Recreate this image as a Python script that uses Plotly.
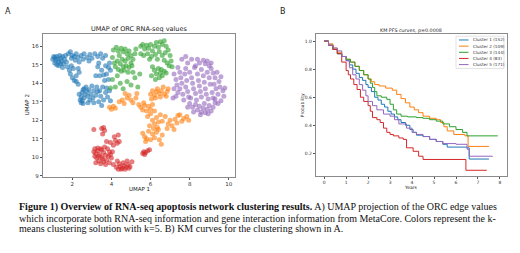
import plotly.graph_objects as go

# ---------------- data: UMAP scatter (panel A) ----------------
cluster1_pts = [(1.0,15.3),(1.1,15.4),(1.15,15.25),(1.2,15.45),(1.25,15.3),(1.3,15.15),(1.35,15.5),(1.4,15.35),(1.45,15.2),(1.5,15.45),
    (1.1,15.1),(1.2,15.0),(1.3,14.95),(1.55,15.05),(1.6,15.3),(1.65,15.5),(1.05,15.45),(1.4,15.05),(1.5,14.85),(1.7,15.15),
    (1.8,15.6),(1.9,15.7),(2.0,15.5),(2.1,15.45),(2.2,15.6),(2.3,15.4),(2.45,15.5),(2.55,15.3),(1.95,15.35),(2.15,15.25),(2.35,15.15),(2.6,15.6),
    (1.75,14.9),(1.85,14.7),(1.9,14.5),(2.0,14.3),(2.1,14.15),(2.2,14.4),(2.3,14.8),(2.35,14.6),(1.95,14.95),(2.05,14.8),(2.2,14.1),(2.3,13.95),
    (2.4,13.1),(2.45,12.95),(2.5,13.05),(2.55,12.9),(2.6,13.2),(2.45,13.25),(2.5,13.5),(2.6,13.7),(2.7,13.8),(2.75,13.55),(2.8,13.3),(2.9,13.1),
    (2.65,13.4),(2.35,13.4),(2.55,13.65),(2.85,13.65),(2.95,13.4),(3.05,13.2),(3.1,12.95),(3.2,13.35),(3.3,13.55),(3.35,13.0),(3.5,12.8),
    (3.45,13.3),(3.6,13.1),(3.7,13.5),(3.8,13.25),(3.9,13.6),(3.95,13.05),(3.1,13.6),(3.25,13.8),(3.4,13.6),(3.55,13.8),(3.75,13.75),(3.0,13.85),(2.8,12.95),
    (2.75,15.4),(2.9,15.55),(3.0,15.35),(3.15,15.6),(3.3,15.45),(3.45,15.6),(3.55,15.35),(3.7,15.5),(2.85,15.2),(3.35,15.1),
    (3.3,14.9),(3.5,14.7),(3.6,14.45),(3.75,14.5),(3.85,14.85),(3.9,15.1),(3.4,14.4),(3.2,14.4),(3.65,14.15),(3.85,14.2),(3.7,14.95),(3.95,14.7)]

cluster2_pts = [(3.9,12.7),(4.0,12.6),(4.1,12.75),(4.2,12.65),
    (4.4,13.0),(4.55,13.1),(4.65,12.9),(4.8,13.2),(4.9,13.35),(5.0,13.1),(5.1,12.95),(5.25,13.2),(5.3,13.45),(4.7,13.45),(5.4,12.85),
    (5.5,12.7),(5.6,12.55),(5.7,12.8),(5.8,12.5),(5.9,12.75),(6.0,12.6),(6.1,12.85),(5.65,12.95),(6.2,12.5),
    (6.0,13.4),(6.1,13.6),(6.2,13.35),(6.3,13.55),(6.35,13.7),(6.45,13.45),(6.55,13.6),(6.65,13.8),(6.7,13.4),(6.85,13.55),(6.9,13.7),
    (6.25,13.2),(6.5,13.25),(6.8,13.3),(6.05,13.15),
    (5.85,12.2),(6.0,12.35),(6.1,12.0),(6.2,11.8),(6.3,12.15),(6.4,11.9),(6.5,12.3),(5.95,11.7),(6.15,11.55),(6.35,11.6),
    (5.6,11.3),(5.7,11.1),(5.8,11.0),(5.9,11.4),(6.0,10.95),(6.1,11.25),(6.2,11.05),(6.3,11.35),(6.45,10.95),(6.55,10.7),(5.75,10.85),(6.4,11.5),(6.6,11.2),
    (6.6,11.95),(6.75,12.2),(6.9,11.8),(7.0,12.0),(7.1,11.7),(7.25,12.05),(7.35,11.85),(7.5,12.3),(7.6,11.95),(7.7,12.1),(7.85,12.2),(7.95,12.0),
    (7.4,12.25),(6.85,11.55),(7.2,11.5)]

cluster3_pts = [(4.1,15.8),(4.25,15.95),(4.35,15.75),(4.5,15.9),(4.6,15.7),(4.7,15.85),(4.8,15.6),(4.9,15.75),(5.0,15.5),(4.4,15.5),
    (4.55,15.3),(4.7,15.2),(4.85,15.35),(5.0,15.1),(5.1,15.3),(4.3,15.2),(4.45,15.05),(4.6,14.9),(4.75,14.95),(4.9,14.85),
    (5.05,14.95),(4.2,14.9),(4.35,14.75),(4.5,14.65),(4.65,14.7),(4.85,14.6),(4.05,15.4),(4.15,15.1),(5.2,15.6),(5.25,15.85),
    (5.5,16.0),(5.6,16.1),(5.7,15.85),(5.8,16.05),(5.9,15.9),(6.0,16.1),(6.1,15.75),(6.2,16.0),(6.3,16.2),(6.4,15.95),(6.5,16.25),
    (6.6,16.1),(6.7,16.3),(6.8,16.0),(5.5,15.6),(5.65,15.5),(5.85,15.6),(6.05,15.45),(6.25,15.55),(6.45,15.7),(6.6,15.5),(6.75,15.65),
    (5.95,15.3),(6.35,15.3),
    (6.9,15.8),(7.0,15.5),(7.05,15.2),(6.85,15.1),(6.95,14.95),(7.1,14.9),(6.7,15.25),
    (6.1,14.9),(6.2,14.7),(6.3,14.5),(6.4,14.8),(6.5,14.55),(6.6,14.4),(6.7,14.65),(6.45,14.3),(6.25,14.2),(6.05,14.4),(6.8,14.55),(6.55,14.75),
    (4.05,14.2),(4.2,13.8),(4.45,14.0),(4.6,13.7),(4.8,14.1),(5.0,13.9),(5.2,14.3),(5.35,13.8),(4.3,14.4),(5.45,14.5),(5.1,14.6),(3.95,13.75)]

cluster4_pts = [(3.1,11.5),(3.5,11.55),(3.6,11.6),(3.65,11.45),(3.55,11.25),
    (4.15,11.1),(4.2,10.9),(4.3,10.75),(4.35,11.2),(4.4,10.85),
    (3.75,10.85),(3.95,10.8),(4.1,10.65),
    (3.1,10.3),(3.2,10.2),(3.3,10.35),(3.15,10.05),(3.25,9.95),(3.4,10.15),(3.5,10.4),(3.6,10.25),(3.7,10.1),(3.55,9.9),(3.35,9.8),
    (3.45,9.65),(3.6,9.75),(3.75,9.85),(3.85,10.05),(3.9,10.3),(3.8,10.45),(4.0,9.95),(3.3,10.5),(3.45,10.45),(3.65,10.55),(3.9,9.7),
    (4.05,10.3),(3.2,9.7),(3.35,10.05),(3.5,10.0),(3.7,9.6),(3.15,10.45),(3.95,10.15),(4.1,9.6),
    (4.25,9.45),(4.35,9.35),(4.45,9.5),(4.55,9.4),(4.65,9.55),(4.75,9.45),(4.85,9.6),(4.95,9.5),(4.4,9.65),(4.6,9.7),(4.8,9.8),
    (4.3,9.8),(4.5,9.35),(4.7,9.35),(5.05,9.75),(4.9,9.4),
    (5.6,10.2),(5.65,10.3),(5.75,10.25),(5.85,10.35),(5.95,10.4),(5.7,10.15)]

cluster5_pts = [(7.6,15.3),(7.8,15.45),(7.9,15.1),(8.1,15.3),(8.3,14.95),(8.5,15.1),(8.7,15.25),(8.8,15.05),(8.9,15.2),(9.0,14.95),(9.1,15.1),(8.4,15.3),
    (7.2,14.5),(7.3,14.2),(7.35,13.9),(7.2,13.7),(7.4,13.5),(7.3,13.3),(7.5,14.6),(7.55,14.3),(7.6,14.0),(7.5,13.7),(7.65,13.4),(7.7,13.1),
    (7.8,14.8),(7.75,14.5),(7.85,14.15),(7.8,13.8),(7.9,13.55),(7.95,13.25),(7.4,14.85),(7.15,13.2),
    (8.0,14.6),(8.1,14.3),(8.15,14.0),(8.2,13.7),(8.3,13.45),(8.4,14.5),(8.45,14.15),(8.5,13.85),(8.55,13.55),(8.6,13.25),(8.7,14.4),
    (8.75,14.05),(8.8,13.7),(8.85,13.4),(8.9,14.6),(9.0,14.3),(9.05,13.95),(8.25,14.85),(8.6,14.75),(8.05,13.2),(8.35,13.1),(8.95,13.15),
    (9.1,14.8),(9.2,14.55),(9.3,14.3),(9.4,14.6),(9.5,14.1),(9.55,13.8),(9.7,13.6),(9.75,13.3),(9.6,13.05),(9.45,13.4),(9.35,13.7),
    (9.25,13.95),(9.15,13.5),(9.3,13.15),(9.8,13.75),(9.6,14.35),(9.45,12.9),(9.2,13.2),
    (8.0,12.9),(8.15,12.7),(8.3,12.85),(8.4,12.55),(8.5,12.75),(8.6,12.45),(8.7,12.65),(8.8,12.4),(8.9,12.6),(9.0,12.8),(9.1,12.5),
    (9.2,12.7),(9.3,12.95),(8.55,12.3),(8.75,12.9),(8.2,12.45),(7.9,12.7),(8.95,12.35)]

umap_xticks = [2, 4, 6, 8, 10]
umap_yticks = [9, 10, 11, 12, 13, 14, 15, 16]

# ---------------- data: KM PFS curves (panel B) ----------------
km_names = ["Cluster 1 (152)", "Cluster 2 (109)", "Cluster 3 (144)", "Cluster 4 (83)", "Cluster 5 (171)"]
km1_t = [0,0.2,0.4,0.6,0.8,1.0,1.15,1.3,1.45,1.6,1.75,1.9,2.0,2.15,2.3,2.45,2.6,2.75,2.9,3.05,3.2,3.35,3.5,3.7,3.9,4.05,4.2,4.5,4.8,5.1,5.4,5.6,6.5,6.6,7.5]
km1_s = [1.0,0.97,0.94,0.91,0.89,0.86,0.83,0.8,0.77,0.74,0.72,0.69,0.67,0.64,0.6,0.58,0.55,0.53,0.5,0.48,0.46,0.44,0.42,0.40,0.37,0.35,0.33,0.32,0.30,0.285,0.265,0.245,0.24,0.16,0.16]
km2_t = [0,0.2,0.4,0.6,0.8,1.0,1.2,1.4,1.6,1.8,2.0,2.15,2.3,2.5,2.8,3.1,3.3,3.5,3.7,3.9,4.1,4.3,4.5,4.8,5.1,5.3,5.45,5.6,5.9,6.4,6.55,7.5]
km2_s = [1.0,0.98,0.95,0.92,0.89,0.87,0.85,0.82,0.79,0.76,0.73,0.71,0.69,0.68,0.665,0.65,0.62,0.59,0.56,0.53,0.51,0.49,0.465,0.45,0.44,0.42,0.39,0.36,0.335,0.325,0.25,0.25]
km3_t = [0,0.2,0.4,0.6,0.8,1.0,1.2,1.4,1.6,1.8,2.0,2.1,2.2,2.3,2.4,2.6,2.85,3.0,3.15,3.3,3.5,3.8,4.2,4.5,4.8,5.1,5.4,5.7,6.0,6.3,6.5,7.9]
km3_s = [1.0,0.97,0.94,0.91,0.89,0.87,0.85,0.82,0.79,0.76,0.73,0.70,0.67,0.64,0.61,0.60,0.585,0.55,0.51,0.48,0.465,0.46,0.455,0.45,0.44,0.43,0.41,0.39,0.37,0.35,0.325,0.325]
km4_t = [0,0.2,0.4,0.6,0.8,1.0,1.1,1.2,1.35,1.5,1.65,1.8,2.0,2.1,2.2,2.4,2.55,2.7,2.85,3.0,3.15,3.4,3.6,3.75,4.05,4.3,4.5,6.45,7.4]
km4_s = [1.0,0.97,0.94,0.91,0.85,0.79,0.76,0.73,0.69,0.655,0.6,0.57,0.54,0.5,0.455,0.44,0.42,0.38,0.35,0.335,0.325,0.31,0.30,0.24,0.215,0.18,0.157,0.08,0.08]
km5_t = [0,0.2,0.4,0.6,0.8,1.0,1.15,1.3,1.45,1.6,1.75,1.9,2.0,2.2,2.4,2.7,3.0,3.2,3.4,3.75,4.0,4.2,4.5,4.8,5.1,5.4,6.0,6.5,6.6,7.65]
km5_s = [1.0,0.97,0.95,0.93,0.89,0.86,0.81,0.76,0.73,0.69,0.65,0.61,0.57,0.54,0.51,0.48,0.465,0.44,0.41,0.38,0.35,0.335,0.32,0.30,0.285,0.27,0.265,0.23,0.18,0.175]
km_xticks = [0, 1, 2, 3, 4, 5, 6, 7, 8]
km_yticks = [0.2, 0.4, 0.6, 0.8, 1.0]

colors = ["#1f77b4", "#ff7f0e", "#2ca02c", "#d62728", "#9467bd"]

# ---------------- figure ----------------
W, H = 520, 253
def X(px): return px / W
def Y(py): return 1 - py / H

fig = go.Figure()
for pts, c in zip([cluster1_pts, cluster2_pts, cluster3_pts, cluster4_pts, cluster5_pts], colors):
    fig.add_trace(go.Scatter(x=[p[0] for p in pts], y=[p[1] for p in pts], mode="markers",
                             marker=dict(size=5, color=c, opacity=0.6, line=dict(width=0)),
                             xaxis="x", yaxis="y", showlegend=False))
for t, s, c in zip([km1_t, km2_t, km3_t, km4_t, km5_t], [km1_s, km2_s, km3_s, km4_s, km5_s], colors):
    fig.add_trace(go.Scatter(x=t, y=s, mode="lines", line=dict(color=c, width=1, shape="hv"),
                             xaxis="x2", yaxis="y2", showlegend=False))

frame = "#8a8a8a"
tickfont_a = dict(family="DejaVu Sans", size=5.5, color="#333")
tickfont_b = dict(family="DejaVu Sans", size=4.5, color="#333")
common = dict(showline=True, mirror=True, linecolor=frame, linewidth=1.2, showgrid=False, zeroline=False,
              ticks="outside", ticklen=2, tickwidth=0.8, tickcolor="#555")

fig.update_layout(
    width=W, height=H, margin=dict(l=0, r=0, t=0, b=0),
    paper_bgcolor="white", plot_bgcolor="white",
    xaxis=dict(domain=[X(43), X(235)], anchor="y", range=[0.5, 10.32], tickvals=umap_xticks,
               tickfont=tickfont_a, **common),
    yaxis=dict(domain=[Y(178), Y(34)], anchor="x", range=[8.95, 16.68], tickvals=umap_yticks,
               tickfont=tickfont_a, **common),
    xaxis2=dict(domain=[X(316), X(507)], anchor="y2", range=[-0.37, 8.32], tickvals=km_xticks,
                tickfont=tickfont_b, **common),
    yaxis2=dict(domain=[Y(177.3), Y(34)], anchor="x2", range=[0.04, 1.052], tickvals=km_yticks,
                ticktext=["0.2", "0.4", "0.6", "0.8", "1.0"], tickfont=tickfont_b, **common),
)

ann = []
def txt(s, px, py, size, family="DejaVu Sans", xanchor="center", angle=0, color="#222"):
    ann.append(dict(text=s, x=X(px), y=Y(py), xref="paper", yref="paper", showarrow=False,
                    xanchor=xanchor, yanchor="middle", textangle=angle,
                    font=dict(family=family, size=size, color=color)))

txt("A", 8, 12, 8, xanchor="center")
txt("B", 283, 12, 8, xanchor="center")
txt("UMAP of ORC RNA-seq values", 139, 29, 6.5)
txt("UMAP 1", 139, 190.5, 5.5)
txt("UMAP 2", 27, 106, 5.5, angle=-90)
txt("KM PFS curves, p=0.0008", 411, 30.5, 4.8)
txt("Years", 411, 188.5, 4.5)
txt("Probability", 302, 106, 4.5, angle=-90)

# legend (drawn manually)
shapes = [dict(type="rect", xref="paper", yref="paper", x0=X(456), x1=X(504), y0=Y(69), y1=Y(36.5),
               line=dict(color="#d0d0d0", width=0.6), fillcolor="white", layer="above")]
leg_y = [40.3, 46.5, 52.7, 58.9, 65.1]
for name, c, ly in zip(km_names, colors, leg_y):
    shapes.append(dict(type="line", xref="paper", yref="paper", x0=X(459), x1=X(468.5), y0=Y(ly), y1=Y(ly),
                       line=dict(color=c, width=1), layer="above"))
    txt(name, 471, ly, 4.2, xanchor="left", color="#333")

# caption
cap_font = "Liberation Serif"
txt("<b>Figure 1) Overview of RNA-seq apoptosis network clustering results.</b> A) UMAP projection of the ORC edge values",
    17, 209, 10, family=cap_font, xanchor="left", color="#111")
txt("which incorporate both RNA-seq information and gene interaction information from MetaCore. Colors represent the k-",
    17, 220, 10, family=cap_font, xanchor="left", color="#111")
txt("means clustering solution with k=5. B) KM curves for the clustering shown in A.",
    17, 231, 10, family=cap_font, xanchor="left", color="#111")

fig.update_layout(annotations=ann, shapes=shapes)
fig.write_html("out.html", config={"displayModeBar": False},
               post_script="document.body.style.margin='0';document.body.style.overflow='hidden';")
